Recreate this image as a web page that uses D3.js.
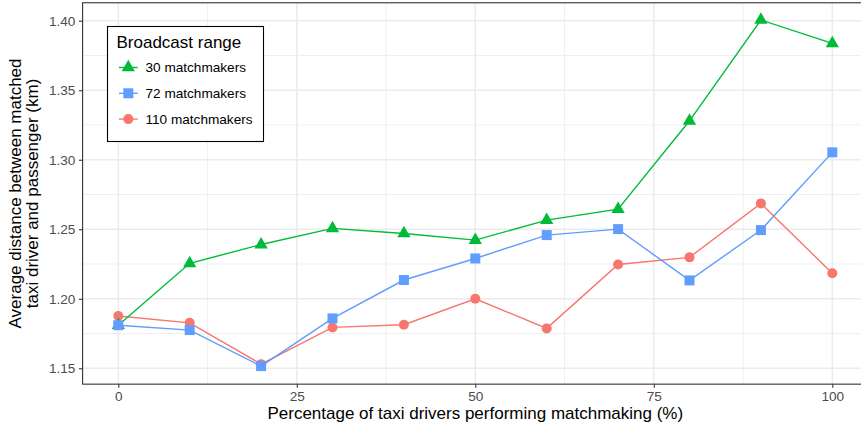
<!DOCTYPE html>
<html>
<head>
<meta charset="utf-8">
<script src="https://cdn.jsdelivr.net/npm/d3@7"></script>
<style>
  body { margin: 0; background: #fff; }
  svg { display: block; font-family: "Liberation Sans", Arial, Helvetica, sans-serif; }
</style>
</head>
<body>
<svg id="chart" width="861" height="429"></svg>
<script>
const xValues = [0, 10, 20, 30, 40, 50, 60, 70, 80, 90, 100];
const seriesNames = ["30 matchmakers", "72 matchmakers", "110 matchmakers"];
const values30 = [1.181, 1.2255, 1.239, 1.2506, 1.247, 1.2422, 1.2566, 1.2645, 1.328, 1.4005, 1.3837];
const values72 = [1.181, 1.1775, 1.1516, 1.1859, 1.2135, 1.229, 1.2458, 1.2501, 1.2132, 1.2494, 1.3053];
const values110 = [1.1876, 1.1827, 1.153, 1.1794, 1.1813, 1.2, 1.1787, 1.2247, 1.2298, 1.2686, 1.2183];
const xTicks = [0, 25, 50, 75, 100];
const xMinor = [12.5, 37.5, 62.5, 87.5];
const yTicks = [1.15, 1.20, 1.25, 1.30, 1.35, 1.40];
const yMinor = [1.175, 1.225, 1.275, 1.325, 1.375];
const colors = { "30 matchmakers": "#00BA38", "72 matchmakers": "#619CFF", "110 matchmakers": "#F8766D" };
const shapes = { "30 matchmakers": "triangle", "72 matchmakers": "square", "110 matchmakers": "circle" };
const legendTitle = "Broadcast range";
const xTitle = "Percentage of taxi drivers performing matchmaking (%)";
const yTitleLines = ["Average distance between matched", "taxi driver and passenger (km)"];

const series = [
  { name: "110 matchmakers", values: values110 },
  { name: "30 matchmakers", values: values30 },
  { name: "72 matchmakers", values: values72 }
];

const FONT = "'Liberation Sans', Arial, Helvetica, sans-serif";
const svg = d3.select("#chart");
const x = d3.scaleLinear().domain([0, 100]).range([118.3, 832.3]);
const y = d3.scaleLinear().domain([1.15, 1.40]).range([368.3, 20.7]);
const xd = [-5, 105];
const yd = [1.1386, 1.4129];
const px0 = x(xd[0]), px1 = x(xd[1]), py0 = y(yd[1]), py1 = y(yd[0]);

const grid = svg.append("g");
grid.selectAll(".xm").data(xMinor).join("line")
  .attr("x1", d => x(d)).attr("x2", d => x(d)).attr("y1", py0).attr("y2", py1)
  .attr("stroke", "#EBEBEB").attr("stroke-width", 0.8);
grid.selectAll(".ym").data(yMinor).join("line")
  .attr("y1", d => y(d)).attr("y2", d => y(d)).attr("x1", px0).attr("x2", px1)
  .attr("stroke", "#EBEBEB").attr("stroke-width", 0.8);
grid.selectAll(".xM").data(xTicks).join("line")
  .attr("x1", d => x(d)).attr("x2", d => x(d)).attr("y1", py0).attr("y2", py1)
  .attr("stroke", "#EBEBEB").attr("stroke-width", 1.5);
grid.selectAll(".yM").data(yTicks).join("line")
  .attr("y1", d => y(d)).attr("y2", d => y(d)).attr("x1", px0).attr("x2", px1)
  .attr("stroke", "#EBEBEB").attr("stroke-width", 1.5);

const line = d3.line().x((d, i) => x(xValues[i])).y(d => y(d));
svg.append("g").selectAll("path").data(series).join("path")
  .attr("d", d => line(d.values))
  .attr("fill", "none")
  .attr("stroke", d => colors[d.name])
  .attr("stroke-width", 1.4);

const symTri = d3.symbol().type(d3.symbolTriangle).size(76);
function drawShape(g, shape, color) {
  if (shape === "circle") {
    g.append("circle").attr("r", 5).attr("fill", color);
  } else if (shape === "square") {
    g.append("rect").attr("x", -5).attr("y", -5).attr("width", 10).attr("height", 10).attr("fill", color);
  } else {
    g.append("path").attr("d", symTri()).attr("fill", color);
  }
}
series.forEach(s => {
  const g = svg.append("g");
  s.values.forEach((v, i) => {
    const pg = g.append("g").attr("transform", `translate(${x(xValues[i])},${y(v)})`);
    drawShape(pg, shapes[s.name], colors[s.name]);
  });
});

// Panel border
svg.append("rect").attr("x", px0).attr("y", py0).attr("width", px1 - px0).attr("height", py1 - py0)
  .attr("fill", "none").attr("stroke", "#333333").attr("stroke-width", 1.1);

// Axes
const xAxis = d3.axisBottom(x).tickValues(xTicks).tickFormat(d3.format("d")).tickSize(3.7).tickPadding(4);
const gx = svg.append("g").attr("transform", `translate(0,${py1})`).call(xAxis);
gx.select(".domain").remove();
gx.selectAll("line").attr("stroke", "#333333").attr("stroke-width", 1.1);
gx.selectAll("text").attr("fill", "#4D4D4D").style("font-size", "13.6px").style("font-family", FONT);

const yAxis = d3.axisLeft(y).tickValues(yTicks).tickFormat(d3.format(".2f")).tickSize(3.7).tickPadding(3.5);
const gy = svg.append("g").attr("transform", `translate(${px0},0)`).call(yAxis);
gy.select(".domain").remove();
gy.selectAll("line").attr("stroke", "#333333").attr("stroke-width", 1.1);
gy.selectAll("text").attr("fill", "#4D4D4D").style("font-size", "13.6px").style("font-family", FONT);

svg.append("text").attr("x", x(50)).attr("y", 418.5)
  .attr("text-anchor", "middle").style("font-size", "17px").attr("fill", "#000").text(xTitle);

const yt = svg.append("text").attr("transform", `translate(20.7,${(py0 + py1) / 2}) rotate(-90)`)
  .attr("text-anchor", "middle").style("font-size", "17px").attr("fill", "#000");
yTitleLines.forEach((t, i) => yt.append("tspan").attr("x", 0).attr("y", i * 17.6).text(t));

// Legend
const lg = svg.append("g");
lg.append("rect").attr("x", 107.5).attr("y", 26.5).attr("width", 156).attr("height", 115)
  .attr("fill", "#fff").attr("stroke", "#000").attr("stroke-width", 1.1);
lg.append("text").attr("x", 116.5).attr("y", 48.3).style("font-size", "17px").attr("fill", "#000").text(legendTitle);
seriesNames.forEach((n, i) => {
  const cy = 67.5 + i * 25.8;
  lg.append("line").attr("x1", 119).attr("x2", 137.7).attr("y1", cy).attr("y2", cy)
    .attr("stroke", colors[n]).attr("stroke-width", 1.4);
  const pg = lg.append("g").attr("transform", `translate(128.3,${cy})`);
  drawShape(pg, shapes[n], colors[n]);
  lg.append("text").attr("x", 145.5).attr("y", cy).attr("dy", "0.36em")
    .style("font-size", "13.6px").attr("fill", "#000").text(n);
});
</script>
</body>
</html>
